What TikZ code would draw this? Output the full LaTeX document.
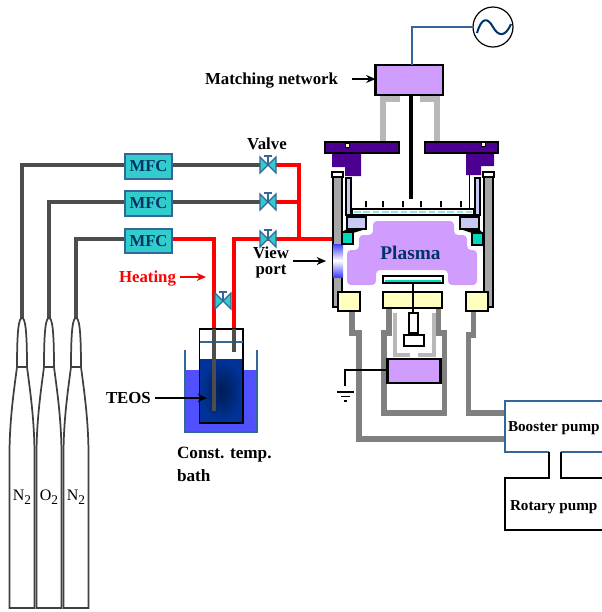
\documentclass[tikz,border=0pt]{standalone}
\usepackage{fontspec}
\setmainfont{Liberation Serif}
\usetikzlibrary{arrows.meta}
\pgfdeclarelayer{bg}
\pgfsetlayers{bg,main}
\definecolor{lav}{HTML}{D09DFF}
\definecolor{plate}{HTML}{4B0091}
\definecolor{teal1}{HTML}{33CCCC}
\definecolor{teal2}{HTML}{00D8C0}
\definecolor{edge}{HTML}{336699}
\definecolor{navy1}{HTML}{003366}
\definecolor{pale}{HTML}{FFFFC0}
\definecolor{peri}{HTML}{C8C8F4}
\definecolor{bathc}{HTML}{5050FF}
\definecolor{liq}{HTML}{003399}
\definecolor{pipedark}{HTML}{4D4D4D}
\definecolor{pipemid}{HTML}{808080}
\definecolor{pipelight}{HTML}{B8B8B8}
\newdimen\pxu \pxu=0.75pt
% name, x1, y1, x2, y2, style
\newcommand\blk[6]{%
  \pgfmathsetmacro\cxx{(#2+#4)/2}\pgfmathsetmacro\cyy{(#3+#5)/2}%
  \pgfmathsetmacro\www{(#4-#2)*0.75}\pgfmathsetmacro\hhh{(#5-#3)*0.75}%
  \node[inner sep=0pt,outer sep=0pt,minimum width=\www pt,minimum height=\hhh pt,#6] (#1) at (\cxx,\cyy) {};}
\newcommand\valve[3]{%
  \node[inner sep=0pt,outer sep=0pt,minimum width=16\pxu,minimum height=16\pxu] (#1) at (#2,#3) {};
  \draw[valvest] (#1.north west)--(#1.south west)--(#1.north east)--(#1.south east)--cycle;
  \draw[edge,line width=1.2pt] (#1.center)--(#1.north) ++(-4,-1)--++(8,0);}
\newcommand\bottle[2]{%
  \draw[cyl] (#2,318) .. controls (#2-3,318) and (#2-5,328) .. (#2-5,367)
    .. controls (#2-8,390) and (#2-12.5,420) .. (#2-12.5,455) -- (#2-12.5,608) -- (#2+12.5,608) -- (#2+12.5,455)
    .. controls (#2+12.5,420) and (#2+8,390) .. (#2+5,367) .. controls (#2+5,328) and (#2+3,318) .. (#2,318) -- cycle;
  \draw[cyl] (#2-5,367) -- (#2+5,367);
  \coordinate (#1) at (#2,318);}
\newcommand\subsc[1]{\raisebox{-3.2pt}{\fontsize{10pt}{10pt}\selectfont #1}}
\tikzset{
  x=0.75pt,y=-0.75pt,
  lbl/.style={font=\fontsize{12.6pt}{14pt}\selectfont\bfseries,inner sep=0pt,outer sep=0pt,anchor=west},
  gaslbl/.style={font=\fontsize{12pt}{14pt}\selectfont,inner sep=0pt},
  mfc/.style={draw=edge,fill=teal1,line width=1.2pt,text=navy1,font=\fontsize{12.5pt}{14pt}\selectfont\bfseries},
  black box/.style={draw=black,line width=1.6pt},
  valvest/.style={draw=edge,fill=teal1,line width=1pt,line join=miter},
  redpipe/.style={draw=red,line width=3pt,line join=miter},
  gaspipe/.style={draw=pipedark,line width=3pt,line join=miter},
  midpipe/.style={draw=pipemid,line width=4.3pt,line join=miter},
  lightpipe/.style={draw=pipelight,line width=3.5pt,line join=miter},
  arr/.style={-{Stealth[length=7pt,width=6pt]},line width=1pt,draw=black},
  thin wire/.style={draw=black,line width=0.9pt},
  cyl/.style={draw=black!75,line width=1.3pt,fill=white},
  pin/.style={draw=black,line width=1.3pt,fill=pale},
}
\begin{document}
\begin{tikzpicture}
\useasboundingbox (0,0) rectangle (602,612);
\clip (0,0) rectangle (602,612);
\begin{pgfonlayer}{bg}
\fill[white] (0,0) rectangle (602,612);
\end{pgfonlayer}

% ---- gas cylinders
\bottle{cylA}{22}
\bottle{cylB}{49}
\bottle{cylC}{76}
\node[gaslbl] (nA) at (22,497) {N\subsc{2}};
\node[gaslbl] (oB) at (49,497) {O\subsc{2}};
\node[gaslbl] (nC) at (76,497) {N\subsc{2}};

% ---- MFCs
\blk{mfcA}{125}{154}{172}{179}{mfc}
\blk{mfcB}{125}{191}{172}{216}{mfc}
\blk{mfcC}{125}{229}{172}{253}{mfc}
\node[mfc,draw=none,fill=none] (tA) at (mfcA) {MFC};
\node[mfc,draw=none,fill=none] (tB) at (mfcB) {MFC};
\node[mfc,draw=none,fill=none] (tC) at (mfcC) {MFC};

% ---- valves
\valve{vA}{268}{165}
\valve{vB}{268}{202}
\valve{vC}{268}{239}
\valve{vD}{223}{301}
\coordinate (joinTop) at (299,165);
\coordinate (joinMid) at (299,202);
\coordinate (joinLow) at (299,239);
\coordinate (inlet) at (342,239);

% ---- bath and bottle
\fill[bathc] (185,370) rectangle (257,432);
\draw[edge,line width=0.9pt] (185,350) -- (185,432) -- (257,432) -- (257,350);
\shade[inner color=black!45!liq,outer color=liq] (199.5,359) rectangle (243,423);
\blk{bottleBox}{199.5}{329}{243}{423}{draw=black,line width=1pt}
\draw[edge,line width=1pt] (199.5,342) -- (243,342);
\coordinate (tubeA) at (213.5,411);
\coordinate (tubeB) at (233.5,352);
\draw[gaspipe] (213.5,329) -- (tubeA);
\draw[gaspipe] (233.5,329) -- (tubeB);

\begin{pgfonlayer}{bg}
  \draw[gaspipe] (cylA) -- (22,165) -- (mfcA.west |- vA);
  \draw[gaspipe] (cylB) -- (49,202) -- (mfcB.west |- vB);
  \draw[gaspipe] (cylC) -- (76,239) -- (mfcC.west |- vC);
  \draw[gaspipe] (mfcA.east |- vA) -- (vA);
  \draw[gaspipe] (mfcB.east |- vB) -- (vB);
  \draw[redpipe] (vA) -- (joinTop) -- (joinLow);
  \draw[redpipe] (vB) -- (joinMid);
  \draw[redpipe] (mfcC.east |- vC) -- (213.5,239) -- (213.5,329);
  \draw[redpipe] (233.5,329) -- (233.5,239) -- (inlet);
\end{pgfonlayer}

% ---- matching network and RF source
\blk{match}{375.5}{65}{443}{95}{black box,fill=lav}
\node[draw=black,line width=0.9pt,circle,minimum size=40\pxu,inner sep=0pt] (rf) at (493,27) {};
\draw[navy1,line width=1.5pt] (477,33) .. controls (482,16) and (488,18) .. (493,27) .. controls (498,36) and (505,38) .. (511,24);
\coordinate (rfbend) at (412,27);
\draw[edge,line width=1.1pt] (412,65) -- (rfbend) -- (rf.west);
\node[lbl] (mlabel) at (205,81) {Matching network};
\coordinate (marrowStart) at (352,79);
\draw[arr] (marrowStart) -- (match.west |- marrowStart);

% ---- gray pipes above lid
\blk{plateL}{325}{142}{399}{153}{black box,fill=plate}
\blk{plateR}{425}{142}{498}{153}{black box,fill=plate}
\begin{pgfonlayer}{bg}
  \draw[lightpipe,line width=4.5pt] (383,142) -- (383,99) -- (400,99);
  \draw[lightpipe,line width=4.5pt] (437,142) -- (437,99) -- (420,99);
\end{pgfonlayer}
\fill[plate] (332,154) -- (361,154) -- (361,176) -- (345,176) -- (345,167) -- (332,167) -- cycle;
\fill[plate] (466,154) -- (494,154) -- (494,166) -- (481,166) -- (481,175) -- (466,175) -- cycle;
\blk{pinL}{345.5}{143.5}{349.5}{147.5}{draw=black,line width=0.6pt,fill=pale}
\blk{pinR}{481.5}{142.5}{485.5}{146.5}{draw=black,line width=0.6pt,fill=pale}

% ---- chamber walls
\blk{colL}{333}{177}{342}{307}{draw=black,line width=1.5pt,fill=black!35}
\blk{colR}{484}{177}{493}{307}{draw=black,line width=1.5pt,fill=black!35}
\blk{capL}{332}{172}{343}{177}{draw=black,line width=1.2pt,fill=white}
\blk{capR}{483}{172}{494}{177}{draw=black,line width=1.2pt,fill=white}
\blk{slimL}{346}{178}{351}{215}{draw=black,line width=1.2pt,fill=peri}
\blk{slimR}{475}{178}{480}{215}{draw=black,line width=1.2pt,fill=peri}
\draw[black,line width=1pt] (469.5,175) -- (469.5,209);
\shade[top color=blue!75,bottom color=white] (333,244) rectangle (343,260.5);
\shade[top color=white,bottom color=blue!75] (333,260.5) rectangle (343,277);

% ---- top electrode
\blk{topE}{352}{209}{474}{215}{black box,fill=white}
\draw[teal1!50,line width=2.2pt,dash pattern=on 5pt off 2pt] (354,212) -- (472,212);
\blk{rod}{409.2}{95}{412.8}{199}{fill=black}
\foreach \n/\xx in {a/366,b/383,c/403,d/421,e/441,f/461}{
  \blk{p\n}{\xx-3.5}{201}{\xx+3.5}{207}{pin}
}
\fill[black] (342,232) -- (347,229) -- (366,229) -- (353,233) -- cycle;
\fill[black] (483,233) -- (479,229) -- (460,229) -- (472,233) -- cycle;
\blk{shL}{347}{217}{366}{229}{black box,fill=peri}
\blk{shR}{460}{217}{479}{229}{black box,fill=peri}
\blk{tqL}{342}{232}{353}{244}{black box,fill=teal2}
\blk{tqR}{472}{233}{483}{245}{black box,fill=teal2}

% ---- plasma
\fill[lav,rounded corners=3pt] (373,235) -- (373,221) -- (454,221) -- (454,235) -- (467,235) -- (467,250) -- (477,250) -- (477,285) -- (448,285) -- (448,270) -- (376,270) -- (376,285) -- (347,285) -- (347,250) -- (359,250) -- (359,235) -- cycle;
\node[font=\fontsize{14.5pt}{16pt}\selectfont\bfseries,text=navy1,inner sep=0pt] (plasma) at (410.5,253) {Plasma};

% ---- holder
\blk{holder}{383}{276}{443}{283}{black box,fill=white}
\fill[teal2] (385,279.5) rectangle (441,281.5);

% ---- lower pipes
\blk{footL}{338}{292}{360}{311}{black box,fill=pale}
\blk{footC}{383}{292}{442}{308}{black box,fill=pale}
\blk{footR}{466}{292}{488}{311}{black box,fill=pale}
\blk{shaft}{409}{313}{418}{333}{black box,fill=white}
\blk{base}{404}{335}{424}{346}{black box,fill=white}
\coordinate (holderFoot) at (413,283);
\draw[thin wire] (holderFoot) -- (shaft.north -| holderFoot);
\draw[black,line width=2pt] (413.5,333) -- (413.5,335);
\blk{lowerBox}{387.5}{359}{440.5}{383}{black box,fill=lav}
\coordinate (bIn) at (505,439);
\coordinate (bIn2) at (505,413);
\begin{pgfonlayer}{bg}
  \draw[midpipe] (352,311) -- (352,333) -- (359,333) -- (359,439) -- (bIn);
  \draw[midpipe] (389,308) -- (389,333) -- (384,333) -- (384,413) -- (444.5,413) -- (444.5,333) -- (438.5,333) -- (438.5,308);
  \draw[midpipe] (473.5,311) -- (473.5,335) -- (468.5,335) -- (468.5,413) -- (bIn2);
  \draw[lightpipe] (395,313) -- (395,355) -- (410,355);
  \draw[lightpipe] (434,313) -- (434,355) -- (418,355);
\end{pgfonlayer}

% ---- ground
\coordinate (gnd) at (345,370);
\draw[thin wire] (lowerBox.west |- gnd) -- (gnd) -- (345,386);
\draw[black,line width=1.1pt] (337,392) -- (354,392);
\draw[black,line width=1.1pt] (341,396.5) -- (350,396.5);
\draw[black,line width=1.4pt] (344,401) -- (347,401);

% ---- pumps
\draw[edge,line width=0.9pt] (602,401) -- (505,401) -- (505,452) -- (549,452);
\draw[edge,line width=0.9pt] (561,452) -- (602,452);
\draw[black,line width=0.9pt] (549,452) -- (549,478) -- (505,478) -- (505,530) -- (602,530);
\draw[black,line width=0.9pt] (561,452) -- (561,478) -- (602,478);
\node[lbl,font=\fontsize{11.4pt}{13pt}\selectfont\bfseries] (blabel) at (508,428.5) {Booster pump};
\node[lbl,font=\fontsize{11.4pt}{13pt}\selectfont\bfseries] (rlabel) at (510,507) {Rotary pump};

% ---- labels
\node[lbl,anchor=center] (valveText) at (267,144) {Valve};
\node[lbl,anchor=center,align=center,font=\fontsize{12.6pt}{11.4pt}\selectfont\bfseries] (viewText) at (271,262.5) {View\\port};
\coordinate (vpArrow) at (293,261);
\draw[arr] (vpArrow) -- (326,261);
\node[lbl,text=red] (heat) at (119,278.5) {Heating};
\coordinate (heatEnd) at (206,277);
\coordinate (heatStart) at (180,277);
\draw[arr,draw=red,-{Stealth[length=7pt,width=6pt,fill=red]}] (heatStart) -- (heatEnd);
\node[lbl] (teos) at (106,398) {TEOS};
\coordinate (teosEnd) at (207,398);
\draw[arr,line width=1.2pt] (teos.east) ++(4,0) -- (teosEnd);
\node[lbl,font=\fontsize{12.9pt}{15pt}\selectfont\bfseries] (const) at (177,455) {Const. temp.};
\node[lbl,font=\fontsize{12.9pt}{15pt}\selectfont\bfseries] (bath) at (177,476) {bath};
\end{tikzpicture}
\end{document}
